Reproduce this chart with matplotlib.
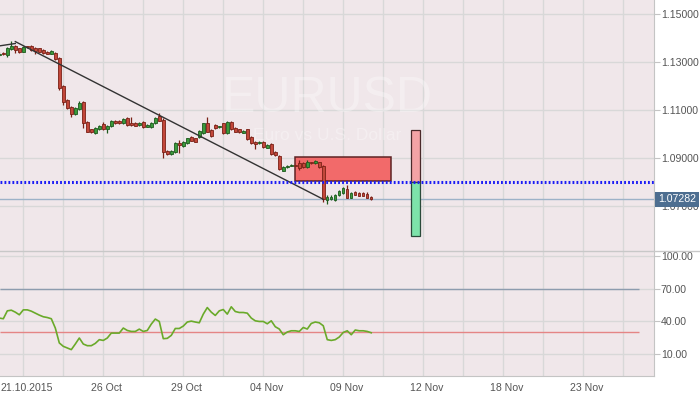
import matplotlib
matplotlib.use("Agg")
from matplotlib import pyplot as plt
from matplotlib import transforms
from matplotlib.patches import Rectangle
from matplotlib.lines import Line2D
import numpy as np

plt.rcParams['font.family'] = ['Liberation Sans', 'DejaVu Sans']

# --- Data (one candle per index) ---
candle_index = list(range(-1, 93))
opens = [1.13292, 1.13363, 1.13292, 1.13542, 1.13679, 1.13571, 1.13429, 1.13646, 1.13667, 1.13596,
         1.13571, 1.13500, 1.13429, 1.13346, 1.13363, 1.13179, 1.12000, 1.11417, 1.11138, 1.10833,
         1.11042, 1.11346, 1.10500, 1.10196, 1.10029, 1.10196, 1.10417, 1.10196, 1.10333, 1.10554,
         1.10542, 1.10446, 1.10654, 1.10471, 1.10471, 1.10375, 1.10500, 1.10292, 1.10279, 1.10446,
         1.10750, 1.10583, 1.09292, 1.09154, 1.09238, 1.09638, 1.09513, 1.09613, 1.09863, 1.09821,
         1.09888, 1.10029, 1.10471, 1.10167, 1.10375, 1.10279, 1.10446, 1.10029, 1.10513, 1.10238,
         1.10196, 1.10054, 1.10196, 1.09863, 1.09654, 1.09613, 1.09654, 1.09429, 1.09583, 1.09238,
         1.09083, 1.08471, 1.08613, 1.08667, 1.08708, 1.08804, 1.08804, 1.08613, 1.08821, 1.08779,
         1.08821, 1.08667, 1.07250, 1.07279, 1.07250, 1.07458, 1.07529, 1.07696, 1.07346, 1.07596,
         1.07554, 1.07529, 1.07488, 1.07388]
highs = [1.13396, 1.13396, 1.13625, 1.13875, 1.13708, 1.13604, 1.13667, 1.13667, 1.13708, 1.13625,
         1.13604, 1.13521, 1.13458, 1.13500, 1.13429, 1.13221, 1.12042, 1.11458, 1.11167, 1.11125,
         1.11375, 1.11375, 1.10542, 1.10229, 1.10271, 1.10375, 1.10513, 1.10375, 1.10583, 1.10583,
         1.10563, 1.10646, 1.10688, 1.10721, 1.10500, 1.10500, 1.10521, 1.10396, 1.10500, 1.10708,
         1.10888, 1.10667, 1.09333, 1.09333, 1.09646, 1.09750, 1.09688, 1.09854, 1.09896, 1.09854,
         1.10167, 1.10479, 1.10721, 1.10208, 1.10396, 1.10354, 1.10479, 1.10521, 1.10542, 1.10271,
         1.10229, 1.10167, 1.10229, 1.09896, 1.09688, 1.09688, 1.09688, 1.09563, 1.09625, 1.09271,
         1.09125, 1.08646, 1.08708, 1.08750, 1.08729, 1.08917, 1.08854, 1.08896, 1.08854, 1.08896,
         1.08854, 1.08708, 1.07458, 1.07438, 1.07500, 1.07667, 1.07771, 1.07875, 1.07583, 1.07625,
         1.07583, 1.07563, 1.07583, 1.07417]
lows = [1.13250, 1.13271, 1.13229, 1.13500, 1.13375, 1.13375, 1.13396, 1.13604, 1.13479, 1.13354,
        1.13396, 1.13333, 1.13313, 1.13333, 1.13083, 1.11833, 1.11208, 1.11042, 1.10721, 1.10792,
        1.11000, 1.10250, 1.10063, 1.10042, 1.10000, 1.10167, 1.10167, 1.10029, 1.10292, 1.10417,
        1.10417, 1.10417, 1.10354, 1.10333, 1.10313, 1.10354, 1.10250, 1.10271, 1.10250, 1.10417,
        1.10521, 1.08988, 1.09125, 1.09125, 1.09208, 1.09208, 1.09479, 1.09583, 1.09688, 1.09646,
        1.09854, 1.10000, 1.10063, 1.09875, 1.10229, 1.10250, 1.10000, 1.10000, 1.10167, 1.10063,
        1.10042, 1.10029, 1.09750, 1.09583, 1.09363, 1.09583, 1.09417, 1.09396, 1.09125, 1.09083,
        1.08500, 1.08438, 1.08583, 1.08646, 1.08646, 1.08500, 1.08583, 1.08583, 1.08750, 1.08750,
        1.08583, 1.07179, 1.07083, 1.07250, 1.07229, 1.07417, 1.07500, 1.07313, 1.07313, 1.07438,
        1.07396, 1.07396, 1.07333, 1.07250]
closes = [1.13354, 1.13313, 1.13571, 1.13667, 1.13500, 1.13429, 1.13638, 1.13625, 1.13500, 1.13458,
          1.13429, 1.13363, 1.13346, 1.13438, 1.13125, 1.11929, 1.11346, 1.11071, 1.10821, 1.11071,
          1.11304, 1.10446, 1.10096, 1.10083, 1.10238, 1.10333, 1.10196, 1.10333, 1.10542, 1.10446,
          1.10446, 1.10613, 1.10375, 1.10363, 1.10346, 1.10471, 1.10279, 1.10363, 1.10471, 1.10654,
          1.10554, 1.09238, 1.09154, 1.09292, 1.09613, 1.09529, 1.09654, 1.09821, 1.09721, 1.09679,
          1.10138, 1.10446, 1.10096, 1.09917, 1.10263, 1.10333, 1.10029, 1.10488, 1.10196, 1.10096,
          1.10083, 1.10138, 1.09779, 1.09613, 1.09571, 1.09654, 1.09446, 1.09529, 1.09167, 1.09125,
          1.08529, 1.08613, 1.08679, 1.08708, 1.08667, 1.08571, 1.08613, 1.08846, 1.08779, 1.08875,
          1.08613, 1.07292, 1.07388, 1.07388, 1.07458, 1.07638, 1.07738, 1.07346, 1.07554, 1.07458,
          1.07429, 1.07417, 1.07346, 1.07282]
oscillator = [43.1, 42.5, 49.7, 50.3, 48.5, 46.1, 50.6, 50.6, 49.4, 47.6,
              45.8, 44.3, 43.6, 42.5, 34.0, 20.4, 17.3, 15.8, 14.3, 19.4,
              24.9, 19.4, 17.9, 17.9, 20.0, 23.4, 22.7, 24.9, 29.4, 29.4,
              29.4, 34.0, 31.8, 30.9, 30.9, 33.0, 30.9, 31.8, 37.6, 42.2,
              40.0, 24.3, 24.6, 27.3, 33.6, 33.6, 35.8, 39.5, 40.3, 39.5,
              38.8, 46.7, 52.7, 48.5, 45.5, 49.7, 50.9, 46.7, 53.4, 49.1,
              48.2, 48.2, 47.6, 43.1, 40.6, 40.0, 40.0, 37.9, 40.6, 35.2,
              33.1, 27.9, 30.4, 31.5, 31.5, 30.9, 34.5, 33.1, 38.2, 39.5,
              38.8, 36.1, 23.4, 22.7, 23.4, 25.8, 30.0, 31.5, 27.9, 32.2,
              31.5, 31.5, 30.9, 29.7]

tick_positions = [5, 25, 45, 65, 85, 105, 125, 145]
tick_labels = ["21.10.2015", "26 Oct", "29 Oct", "04 Nov", "09 Nov", "12 Nov", "18 Nov", "23 Nov"]
price_ticks = [1.07, 1.09, 1.11, 1.13, 1.15]
osc_ticks = [10, 40, 70, 100]

last_price = 1.07282
level_price = 1.0800
trend_start = (3, 1.1385)
trend_end = (80, 1.0728)
prior_line = (-5, 1.13569)
zone = (73, 97, 1.0804, 1.0903)          # start, end, low, high
range_bar = (103, 1.1015, 1.0800, 1.0574)  # index, top, mid, bottom
osc_levels = (70, 30)
osc_level_end = 159

# --- Style ---
bg = '#f0e7ea'
grid_c = '#d8d8d8'
axis_c = '#c4c4c4'
label_c = '#555555'
up_fill, up_edge = '#3b9a3b', '#1d5a1d'
dn_fill, dn_edge = '#c2473a', '#7a2016'
xlim = (-0.83, 162.7)

fig = plt.figure(figsize=(7, 3.94), dpi=100)
fig.patch.set_facecolor('white')
ax = fig.add_axes([0, 1 - 250.7 / 394, 654 / 700, 250.7 / 394])
ax2 = fig.add_axes([0, 1 - 375.7 / 394, 654 / 700, 125 / 394])

for a in (ax, ax2):
    a.set_facecolor(bg)
    a.set_xlim(*xlim)
    a.yaxis.tick_right()
    for s in ('top', 'left'):
        a.spines[s].set_visible(False)
    a.spines['right'].set_color(axis_c)
    a.spines['bottom'].set_color(axis_c)
    a.set_xticks(np.arange(5, 160, 10), minor=True)
    a.grid(True, which='minor', axis='x', color=grid_c, lw=1, zorder=0)
    a.grid(True, which='major', axis='y', color=grid_c, lw=1, zorder=0)
    a.set_axisbelow(True)
    a.tick_params(axis='y', length=4, color=axis_c, labelsize=7.6, labelcolor=label_c, pad=1)
    a.tick_params(axis='x', which='both', length=0, labelsize=7.6, labelcolor=label_c, pad=5)

# --- Price panel ---
ax.set_ylim(1.051375, 1.155833)
ax.spines['bottom'].set_visible(False)
ax.set_yticks(price_ticks)
ax.set_yticklabels(["%.5f" % p for p in price_ticks])
ax.set_xticks([])

ax.text(81, 1.1145, "EURUSD", ha='center', va='center', fontsize=36, color='white', alpha=0.32, zorder=1)
ax.text(81, 1.0993, "Euro vs U.S. Dollar", ha='center', va='center', fontsize=12.5, color='white', alpha=0.32, zorder=1)

ax.axhline(last_price, color='#9db2c8', lw=1, zorder=2)
ax.axhline(level_price, color='#1c1cf5', lw=2.2, ls=(0, (0.6, 0.7)), zorder=6)

ax.add_patch(Rectangle((zone[0], zone[2]), zone[1] - zone[0], zone[3] - zone[2],
                       facecolor='#f26a6a', edgecolor='#5e2424', lw=1.1, zorder=2.5))
ax.add_patch(Rectangle((range_bar[0] - 1, range_bar[2]), 2.1, range_bar[1] - range_bar[2],
                       facecolor='#f3a3a5', edgecolor='#4a2a2a', lw=0.9, zorder=5))
ax.add_patch(Rectangle((range_bar[0] - 1, range_bar[3]), 2.1, range_bar[2] - range_bar[3],
                       facecolor='#7de3aa', edgecolor='#2a4a3a', lw=0.9, zorder=5))

# Candles
o = np.array(opens); c = np.array(closes)
up = c >= o
x = np.array(candle_index)
ax.vlines(x[up], np.array(lows)[up], np.array(highs)[up], color=up_edge, lw=0.9, zorder=3)
ax.vlines(x[~up], np.array(lows)[~up], np.array(highs)[~up], color=dn_edge, lw=0.9, zorder=3)
body = np.maximum(np.abs(c - o), 0.00006)
ax.bar(x[up], body[up], bottom=o[up], width=0.62, color=up_fill, edgecolor=up_edge, lw=0.6, zorder=4)
ax.bar(x[~up], body[~up], bottom=c[~up], width=0.62, color=dn_fill, edgecolor=dn_edge, lw=0.6, zorder=4)

ax.plot([prior_line[0], trend_start[0]], [prior_line[1], 1.13771], color='#333333', lw=1, zorder=5)
ax.plot([trend_start[0], trend_end[0]], [trend_start[1], trend_end[1]], color='#333333', lw=1, zorder=5)

trans = transforms.blended_transform_factory(ax.transAxes, ax.transData)
ax.text(1.006, last_price, "%.5f" % last_price, transform=trans, ha='left', va='center',
        fontsize=7.6, color='white', zorder=10, clip_on=False,
        bbox=dict(boxstyle='square,pad=0.25', facecolor='#4d6e90', edgecolor='none'))

# --- Oscillator panel ---
ax2.set_ylim(-9.5, 104.6)
ax2.set_yticks(osc_ticks)
ax2.set_yticklabels(["%.2f" % v for v in osc_ticks])
ax2.set_xticks([p + 0.75 for p in tick_positions])
ax2.set_xticklabels(tick_labels)
ax2.hlines(osc_levels[0], xlim[0], osc_level_end, color='#8d9cae', lw=1, zorder=2)
ax2.hlines(osc_levels[1], xlim[0], osc_level_end, color='#e58585', lw=1, zorder=2)
ax2.plot(candle_index, oscillator, color='#6aaa2a', lw=1.2, zorder=3)

fig.add_artist(Line2D([0, 1], [1 - 250.7 / 394] * 2, transform=fig.transFigure, color='#c8c8c8', lw=1))

fig.savefig("out.png", dpi=100)
